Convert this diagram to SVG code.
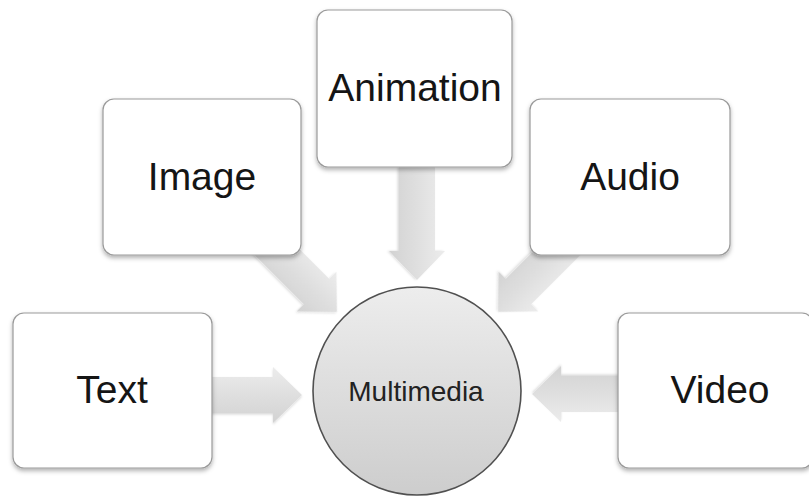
<svg xmlns="http://www.w3.org/2000/svg" width="809" height="497" viewBox="0 0 809 497">
  <defs>
    <style>
      .box { fill: #ffffff; stroke: #9a9a9a; stroke-width: 1.2; filter: url(#shadow); }
      .lbl { font-family: "Liberation Sans", Arial, sans-serif; font-size: 39px; fill: #151515; text-anchor: middle; }
      .clbl { font-family: "Liberation Sans", Arial, sans-serif; font-size: 28px; fill: #222222; text-anchor: middle; }
      .arrow { fill: url(#arrowGrad); filter: url(#ashadow); }
    </style>
    <linearGradient id="arrowGrad" x1="0" y1="0" x2="0" y2="1">
      <stop offset="0" stop-color="#ececec"/>
      <stop offset="1" stop-color="#d2d2d2"/>
    </linearGradient>
    <linearGradient id="circGrad" x1="0" y1="0" x2="0" y2="1">
      <stop offset="0" stop-color="#ededed"/>
      <stop offset="1" stop-color="#cdcdcd"/>
    </linearGradient>
    <filter id="shadow" x="-10%" y="-10%" width="120%" height="125%">
      <feDropShadow dx="0" dy="2.5" stdDeviation="2" flood-color="#000000" flood-opacity="0.3"/>
    </filter>
    <filter id="ashadow" x="-10%" y="-20%" width="120%" height="140%">
      <feDropShadow dx="0" dy="1.5" stdDeviation="1.2" flood-color="#000000" flood-opacity="0.15"/>
    </filter>
    <path id="arr" d="M -113,-18 H -29 V -28 L 0,0 L -29,28 V 18 H -113 Z"/>
  </defs>
  <rect width="809" height="497" fill="#ffffff"/>

  <g id="connectors">
    <use href="#arr" class="arrow" transform="translate(302,395)"/>
    <use href="#arr" class="arrow" transform="translate(532,394) rotate(180)"/>
    <use href="#arr" class="arrow" transform="translate(417,280) rotate(90)"/>
    <use href="#arr" class="arrow" transform="translate(337,312) rotate(45)"/>
    <use href="#arr" class="arrow" transform="translate(498,312) rotate(135)"/>
  </g>

  <g id="node-text">
    <rect class="box" x="13" y="313" width="199" height="155" rx="11"/>
    <text class="lbl" x="112" y="403">Text</text>
  </g>
  <g id="node-image">
    <rect class="box" x="103" y="99" width="198" height="156" rx="11"/>
    <text class="lbl" x="202" y="190">Image</text>
  </g>
  <g id="node-animation">
    <rect class="box" x="317" y="10" width="195" height="157" rx="11"/>
    <text class="lbl" x="415" y="101">Animation</text>
  </g>
  <g id="node-audio">
    <rect class="box" x="530" y="99" width="200" height="156" rx="11"/>
    <text class="lbl" x="630" y="190">Audio</text>
  </g>
  <g id="node-video">
    <rect class="box" x="618" y="313" width="195" height="155" rx="11"/>
    <text class="lbl" x="720" y="403">Video</text>
  </g>
  <g id="node-multimedia">
    <circle cx="417" cy="391" r="104" fill="url(#circGrad)" stroke="#505050" stroke-width="1.6"/>
    <text class="clbl" x="416" y="401">Multimedia</text>
  </g>
</svg>
